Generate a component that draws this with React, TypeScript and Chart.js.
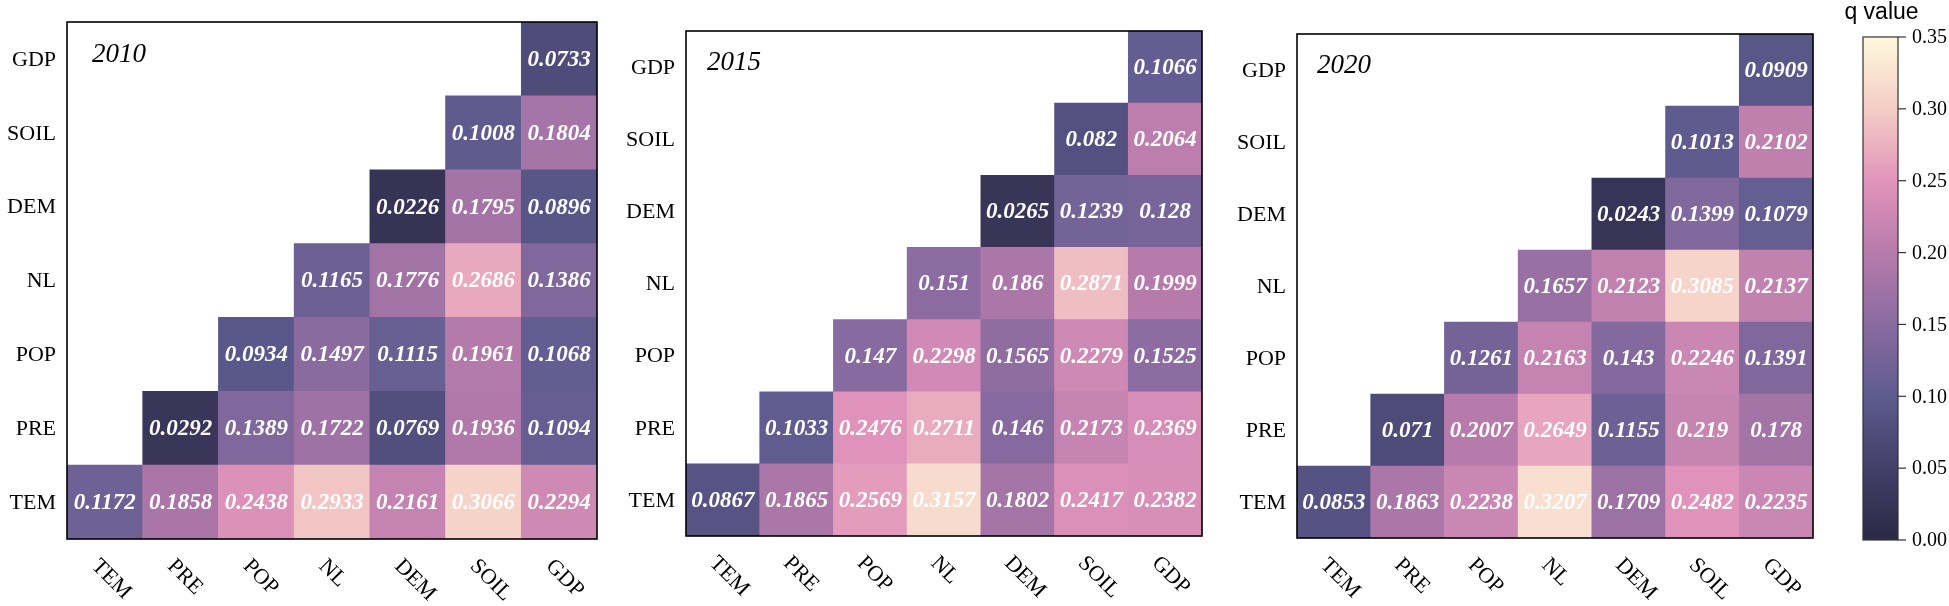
import React, { useEffect, useRef } from 'react';
import { Chart, registerables } from 'chart.js';

Chart.register(...registerables);

const W = 1949;
const H = 606;

// ---------- data ----------
const variables = ['TEM', 'PRE', 'POP', 'NL', 'DEM', 'SOIL', 'GDP'];
const years = ['2010', '2015', '2020'];

// rows from bottom (TEM) to top (GDP); row r holds columns r..6
const q2010 = [
  [0.1172, 0.1858, 0.2438, 0.2933, 0.2161, 0.3066, 0.2294],
  [0.0292, 0.1389, 0.1722, 0.0769, 0.1936, 0.1094],
  [0.0934, 0.1497, 0.1115, 0.1961, 0.1068],
  [0.1165, 0.1776, 0.2686, 0.1386],
  [0.0226, 0.1795, 0.0896],
  [0.1008, 0.1804],
  [0.0733],
];
const q2015 = [
  [0.0867, 0.1865, 0.2569, 0.3157, 0.1802, 0.2417, 0.2382],
  [0.1033, 0.2476, 0.2711, 0.146, 0.2173, 0.2369],
  [0.147, 0.2298, 0.1565, 0.2279, 0.1525],
  [0.151, 0.186, 0.2871, 0.1999],
  [0.0265, 0.1239, 0.128],
  [0.082, 0.2064],
  [0.1066],
];
const q2020 = [
  [0.0853, 0.1863, 0.2238, 0.3207, 0.1709, 0.2482, 0.2235],
  [0.071, 0.2007, 0.2649, 0.1155, 0.219, 0.178],
  [0.1261, 0.2163, 0.143, 0.2246, 0.1391],
  [0.1657, 0.2123, 0.3085, 0.2137],
  [0.0243, 0.1399, 0.1079],
  [0.1013, 0.2102],
  [0.0909],
];
const yearValues = [q2010, q2015, q2020];

const colorbarTicks = [0, 0.05, 0.1, 0.15, 0.2, 0.25, 0.3, 0.35];
const colorbarTitle = 'q value';

// ---------- styles / layout ----------
const cmapColors = ['#2c2946', '#433f68', '#5e5b8f', '#8a6ba0', '#b67bab', '#e194bb', '#f4cdc5', '#fff8dc'];

const panelBoxes = [
  { left: 67, right: 597, top: 22, bottom: 539, yearDx: 25, yearDy: 33 },
  { left: 686, right: 1202, top: 31, bottom: 536, yearDx: 21, yearDy: 32 },
  { left: 1297, right: 1813, top: 34, bottom: 538, yearDx: 20, yearDy: 32 },
];
const colorbarBox = { left: 1863, right: 1898, top: 37, bottom: 540 };

const SERIF = '"Liberation Serif", "Times New Roman", serif';
const SANS = '"Liberation Sans", Arial, sans-serif';

function hexToRgb(h: string) {
  const n = parseInt(h.slice(1), 16);
  return [(n >> 16) & 255, (n >> 8) & 255, n & 255];
}

function colorFor(v: number) {
  const max = colorbarTicks[colorbarTicks.length - 1];
  const t = Math.max(0, Math.min(1, v / max)) * (cmapColors.length - 1);
  const i = Math.min(cmapColors.length - 2, Math.floor(t));
  const f = t - i;
  const a = hexToRgb(cmapColors[i]);
  const b = hexToRgb(cmapColors[i + 1]);
  const c = a.map((x, k) => Math.round(x + (b[k] - x) * f));
  return `rgb(${c[0]},${c[1]},${c[2]})`;
}

function panelConfig(idx: number): any {
  const values = yearValues[idx];
  const box = panelBoxes[idx];
  const year = years[idx];
  const datasets = variables.map((rowName, r) => ({
    label: rowName,
    data: variables.map((_, c) => (c >= r ? [r, r + 1] : null)),
    backgroundColor: variables.map((_, c) => (c >= r ? colorFor(values[r][c - r]) : 'rgba(0,0,0,0)')),
    borderWidth: 0,
    barPercentage: 1,
    categoryPercentage: 1,
    grouped: false,
  }));

  const decor = {
    id: 'panelDecor' + idx,
    afterDatasetsDraw(chart: any) {
      const { ctx, chartArea: a } = chart;
      const x = chart.scales.x;
      const y = chart.scales.y;
      ctx.save();
      // cell values
      ctx.fillStyle = '#ffffff';
      ctx.font = `italic bold 23px ${SERIF}`;
      ctx.textAlign = 'center';
      ctx.textBaseline = 'middle';
      values.forEach((row, r) =>
        row.forEach((v, k) => {
          const c = r + k;
          ctx.fillText(String(v), x.getPixelForValue(c), y.getPixelForValue(r + 0.5) + 1);
        })
      );
      // frame
      ctx.strokeStyle = '#000';
      ctx.lineWidth = 1.6;
      ctx.strokeRect(a.left, a.top, a.right - a.left, a.bottom - a.top);
      // y labels
      ctx.fillStyle = '#000';
      ctx.font = `22px ${SERIF}`;
      ctx.textAlign = 'right';
      variables.forEach((name, r) => ctx.fillText(name, a.left - 11, y.getPixelForValue(r + 0.5) + 1));
      // x labels (rotated 45° clockwise)
      ctx.textAlign = 'left';
      variables.forEach((name, c) => {
        ctx.save();
        ctx.translate(x.getPixelForValue(c) - 10, a.bottom + 24);
        ctx.rotate(Math.PI / 4);
        ctx.fillText(name, 0, 0);
        ctx.restore();
      });
      // year label
      ctx.font = `italic 27px ${SERIF}`;
      ctx.textAlign = 'left';
      ctx.fillText(year, a.left + box.yearDx, a.top + box.yearDy);
      ctx.restore();
    },
  };

  return {
    type: 'bar',
    data: { labels: variables, datasets },
    options: {
      animation: false,
      responsive: false,
      devicePixelRatio: 1,
      layout: { padding: { left: box.left, right: W - box.right, top: box.top, bottom: H - box.bottom } },
      plugins: { legend: { display: false }, tooltip: { enabled: false } },
      events: [],
      scales: {
        x: { type: 'category', display: false, offset: true, grid: { display: false } },
        y: { type: 'linear', display: false, min: 0, max: variables.length },
      },
    },
    plugins: [decor],
  };
}

function colorbarConfig(): any {
  const minV = colorbarTicks[0];
  const maxV = colorbarTicks[colorbarTicks.length - 1];
  const box = colorbarBox;
  const decor = {
    id: 'colorbarDecor',
    afterDatasetsDraw(chart: any) {
      const { ctx, chartArea: a } = chart;
      const y = chart.scales.y;
      ctx.save();
      ctx.strokeStyle = '#333';
      ctx.lineWidth = 1.2;
      ctx.strokeRect(a.left, a.top, a.right - a.left, a.bottom - a.top);
      ctx.fillStyle = '#000';
      ctx.font = `20px ${SERIF}`;
      ctx.textAlign = 'left';
      ctx.textBaseline = 'middle';
      colorbarTicks.forEach((t) => {
        const py = y.getPixelForValue(t);
        ctx.beginPath();
        ctx.moveTo(a.right, py);
        ctx.lineTo(a.right + 8, py);
        ctx.stroke();
        ctx.fillText(t.toFixed(2), a.right + 14, py + 1);
      });
      ctx.font = `23px ${SANS}`;
      ctx.textAlign = 'center';
      ctx.fillText(colorbarTitle, (a.left + a.right) / 2 + 1, 13);
      ctx.restore();
    },
  };
  return {
    type: 'bar',
    data: {
      labels: [colorbarTitle],
      datasets: [
        {
          data: [[minV, maxV]],
          borderWidth: 0,
          barPercentage: 1,
          categoryPercentage: 1,
          backgroundColor: (c: any) => {
            const chart = c.chart;
            const ys = chart.scales && chart.scales.y;
            if (!ys || !chart.chartArea) return cmapColors[0];
            const g = chart.ctx.createLinearGradient(0, ys.getPixelForValue(minV), 0, ys.getPixelForValue(maxV));
            cmapColors.forEach((col, i) => g.addColorStop(i / (cmapColors.length - 1), col));
            return g;
          },
        },
      ],
    },
    options: {
      animation: false,
      responsive: false,
      devicePixelRatio: 1,
      layout: { padding: { left: box.left, right: W - box.right, top: box.top, bottom: H - box.bottom } },
      plugins: { legend: { display: false }, tooltip: { enabled: false } },
      events: [],
      scales: {
        x: { type: 'category', display: false, offset: true },
        y: { type: 'linear', display: false, min: minV, max: maxV },
      },
    },
    plugins: [decor],
  };
}

export default function App() {
  const r0 = useRef<HTMLCanvasElement>(null);
  const r1 = useRef<HTMLCanvasElement>(null);
  const r2 = useRef<HTMLCanvasElement>(null);
  const r3 = useRef<HTMLCanvasElement>(null);
  const refs = [r0, r1, r2, r3];

  useEffect(() => {
    const charts: Chart[] = [];
    [r0, r1, r2].forEach((r, i) => {
      if (r.current) charts.push(new Chart(r.current, panelConfig(i)));
    });
    if (r3.current) charts.push(new Chart(r3.current, colorbarConfig()));
    return () => charts.forEach((c) => c.destroy());
  }, []);

  return (
    <div style={{ position: 'absolute', left: 0, top: 0, width: W, height: H, background: '#ffffff', overflow: 'hidden' }}>
      {refs.map((r, i) => (
        <canvas
          key={i}
          ref={r}
          width={W}
          height={H}
          style={{ position: 'absolute', left: 0, top: 0, width: W, height: H }}
        />
      ))}
    </div>
  );
}
